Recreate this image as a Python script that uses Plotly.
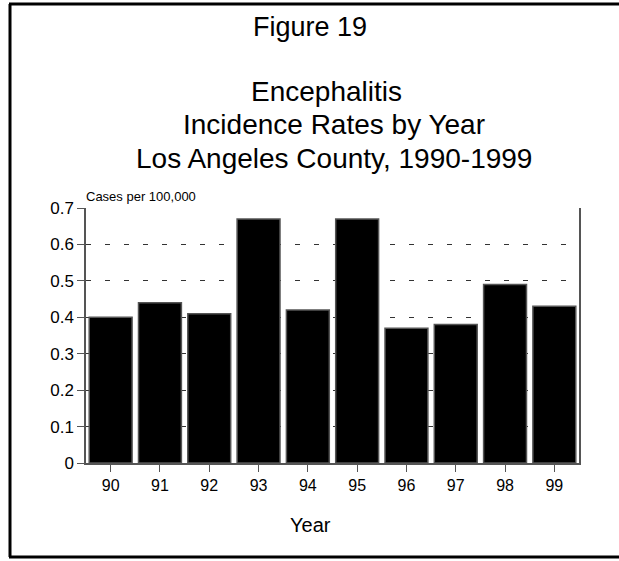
import plotly.graph_objects as go

years = ["90", "91", "92", "93", "94", "95", "96", "97", "98", "99"]
rates = [0.40, 0.44, 0.41, 0.67, 0.42, 0.67, 0.37, 0.38, 0.49, 0.43]
y_ticks = [0, 0.1, 0.2, 0.3, 0.4, 0.5, 0.6, 0.7]
y_tick_labels = ["0", "0.1", "0.2", "0.3", "0.4", "0.5", "0.6", "0.7"]

W, H = 619, 561
L, R, T, B = 86, 40, 208, 98
pw, ph = W - L - R, H - T - B

def px(x):
    return (x - L) / pw

def py(y):
    return (H - B - y) / ph

FONT = "Liberation Sans, Arial, sans-serif"

fig = go.Figure(go.Bar(
    x=years, y=rates,
    marker=dict(color="black", line=dict(color="#555555", width=1.5)),
    width=0.87,
))

fig.update_layout(
    width=W, height=H,
    margin=dict(l=L, r=R, t=T, b=B),
    paper_bgcolor="white", plot_bgcolor="white",
    font=dict(family=FONT, color="black", size=16),
    showlegend=False,
    xaxis=dict(
        showline=True, linecolor="#555555", linewidth=1.5,
        ticks="outside", ticklen=7, tickcolor="#555555",
        tickfont=dict(size=16), showgrid=False,
    ),
    yaxis=dict(
        range=[0, 0.7], tickvals=y_ticks, ticktext=y_tick_labels,
        showline=True, linecolor="#555555", linewidth=1.5, mirror=True,
        ticks="outside", ticklen=7, tickcolor="#555555",
        tickfont=dict(size=17),
        showgrid=True, gridcolor="#333333", gridwidth=1,
        griddash="5px,14px", zeroline=False,
    ),
    shapes=[
        dict(type="line", xref="paper", yref="paper", x0=px(9), x1=px(619), y0=py(4), y1=py(4),
             line=dict(color="black", width=3)),
        dict(type="line", xref="paper", yref="paper", x0=px(10), x1=px(10), y0=py(4), y1=py(557),
             line=dict(color="black", width=3)),
        dict(type="line", xref="paper", yref="paper", x0=px(9), x1=px(619), y0=py(557), y1=py(557),
             line=dict(color="black", width=3)),
    ],
    annotations=[
        dict(text="Figure 19", xref="paper", yref="paper", x=px(310), y=py(27),
             showarrow=False, font=dict(size=27), xanchor="center", yanchor="middle"),
        dict(text="Encephalitis", xref="paper", yref="paper", x=px(326), y=py(91),
             showarrow=False, font=dict(size=28), xanchor="center", yanchor="middle"),
        dict(text="Incidence Rates by Year", xref="paper", yref="paper", x=px(334), y=py(124),
             showarrow=False, font=dict(size=28), xanchor="center", yanchor="middle"),
        dict(text="Los Angeles County, 1990-1999", xref="paper", yref="paper", x=px(334), y=py(158),
             showarrow=False, font=dict(size=28), xanchor="center", yanchor="middle"),
        dict(text="Cases per 100,000", xref="paper", yref="paper", x=px(84), y=py(196),
             showarrow=False, font=dict(size=13), xanchor="left", yanchor="middle"),
        dict(text="Year", xref="paper", yref="paper", x=px(310), y=py(525),
             showarrow=False, font=dict(size=20), xanchor="center", yanchor="middle"),
    ],
)

fig.write_html("out.html", config={"displayModeBar": False},
               post_script="document.body.style.margin='0';")
